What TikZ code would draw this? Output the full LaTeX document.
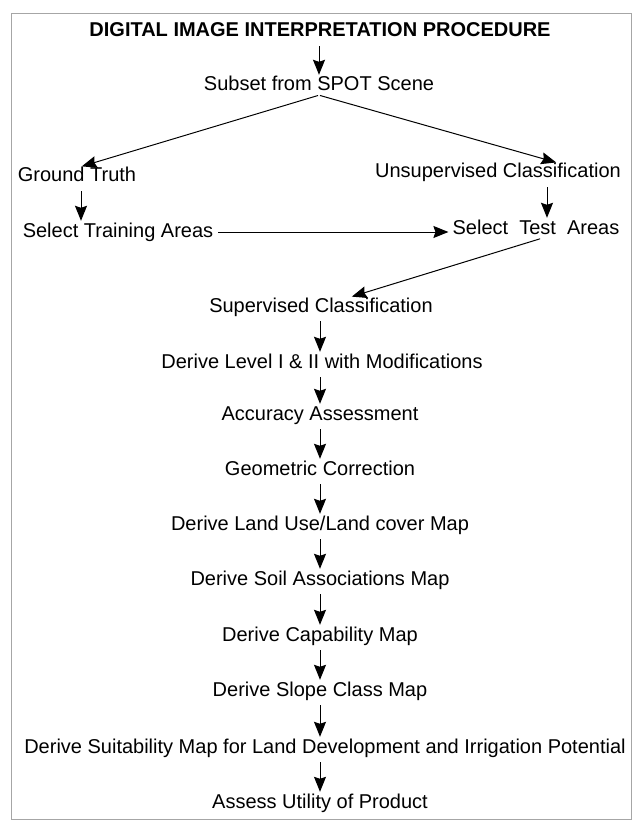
\documentclass[tikz,border=0pt]{standalone}
\usepackage{fontspec}
\setmainfont{Liberation Sans}
\usepackage{tikz}
\usetikzlibrary{arrows.meta,calc}
\tikzset{
	step label/.style={inner sep=0pt, font=\fontsize{20}{24}\selectfont, text height=14pt, text depth=4pt},
	head label/.style={step label, font=\fontsize{20}{24}\selectfont\bfseries},
	arr/.style={line width=1pt, -{Stealth[length=15pt,width=12pt,inset=2pt]}, shorten <=5pt, shorten >=2pt},
}

\begin{document}
\begin{tikzpicture}[x=1pt,y=-1pt]
\useasboundingbox (0,0) rectangle (634,821);
\draw[gray!70, line width=0.9pt] (11,13) rectangle (631,819);
\node[head label] (title) at (320,32) {DIGITAL IMAGE INTERPRETATION PROCEDURE};
\node[step label] (subset) at (319,86) {Subset from SPOT Scene};
\node[step label] (gt) at (77,177) {Ground Truth};
\node[step label] (uns) at (498,173) {Unsupervised Classification};
\node[step label] (train) at (118,232) {Select Training Areas};
\node[step label] (test) at (536,229) {Select~ Test~ Areas};
\node[step label] (sup) at (321,307) {Supervised Classification};
\node[step label] (lev) at (322,363) {Derive Level I \& II with Modifications};
\node[step label] (acc) at (320,415) {Accuracy Assessment};
\node[step label] (geo) at (320,470) {Geometric Correction};
\node[step label] (lu) at (320,525) {Derive Land Use/Land cover Map};
\node[step label] (soil) at (320,580) {Derive Soil Associations Map};
\node[step label] (cap) at (320,636) {Derive Capability Map};
\node[step label] (slope) at (320,691) {Derive Slope Class Map};
\node[step label] (suit) at (325,748) {Derive Suitability Map for Land Development and Irrigation Potential};
\node[step label] (util) at (320,803) {Assess Utility of Product};
% top part
\draw[arr] (title.south -| subset.north) -- (subset.north);
\draw[arr, shorten <=1pt, shorten >=5pt] (subset.south) -- (gt.north);
\draw[arr, shorten <=1pt, shorten >=5pt] (subset.south) -- ([xshift=63pt]uns.north);
\draw[arr] ([xshift=4pt]gt.south) -- ([xshift=4pt]gt.south |- train.north);
\draw[arr] ([xshift=49pt]uns.south) -- ([xshift=49pt]uns.south |- test.north);
\draw[arr, shorten >=4pt] (train.east) -- (train.east -| test.west);
\draw[arr, shorten <=2pt, shorten >=4pt] ([xshift=6pt]test.south) -- ([xshift=27pt]sup.north);
% main column
\foreach \a/\b in {sup/lev, lev/acc, acc/geo, geo/lu, lu/soil, soil/cap, cap/slope, slope/suit, suit/util}
	\draw[arr] (\a.south -| util.north) -- (\b.north -| util.north);
\end{tikzpicture}
\end{document}
